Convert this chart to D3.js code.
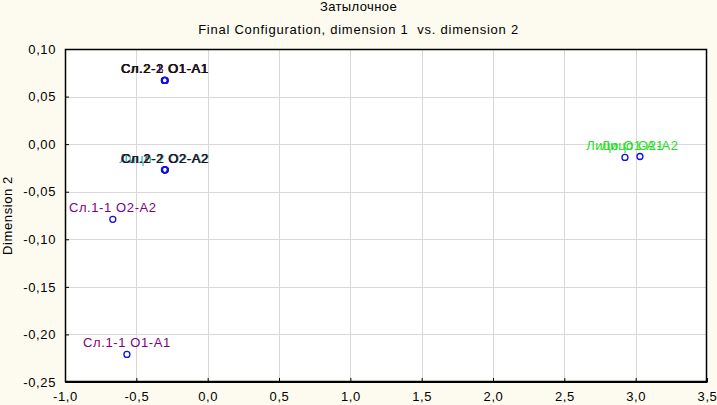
<!DOCTYPE html>
<html>
<head>
<meta charset="utf-8">
<script src="https://cdn.jsdelivr.net/npm/d3@7"></script>
<style>
  body { margin: 0; background: #fdfbef; }
  svg { display: block; font-family: "Liberation Sans", Arial, sans-serif; letter-spacing: 0.6px; }
  .grid line { stroke: #d8d8d8; stroke-width: 1; }
  .axis path, .axis line { stroke: #000; }
  .axis text { font-size: 13px; fill: #000; font-family: "Liberation Sans", Arial, sans-serif; }
</style>
</head>
<body>
<div id="chart"></div>
<script>
/* CONSTANTS */
const width = 717,
  height = 405,
  margin = { top: 49, bottom: 23, left: 65, right: 10 },
  radius = 3;

/* DATA */
const labels = [
  "Сл.1-1 О1-А1", "Сл.1-1 О2-А2",
  "Сл.1-2 О1-А1", "Сл.2-1 О1-А1", "Сл.2-3 О1-А1", "Сп.2-2 О1-А1", "Сл.2-2 О1-А1",
  "Лицо-2 О2-А2", "Сл.2-1 О2-А2", "Сл.1-2 О2-А2", "Сп.2-2 О2-А2", "Сл.2-2 О2-А2",
  "Лицо О1-А1", "Лицо О2-А2"
];
const dim1 = [
  -0.566, -0.665,
  -0.304, -0.302, -0.297, -0.301, -0.300,
  -0.303, -0.296, -0.301, -0.298, -0.300,
  2.925, 3.030
];
const dim2 = [
  -0.221, -0.079,
  0.067, 0.067, 0.067, 0.067, 0.067,
  -0.027, -0.027, -0.027, -0.027, -0.027,
  -0.014, -0.013
];
const labelColors = [
  "#800080", "#800080",
  "#e0d000", "#0000c0", "#c00060", "#006040", "#101010",
  "#20b0b0", "#60c060", "#c03030", "#2020a0", "#181818",
  "#22dd22", "#22dd22"
];
const xTicks = [-1.0, -0.5, 0.0, 0.5, 1.0, 1.5, 2.0, 2.5, 3.0, 3.5];
const yTicks = [0.10, 0.05, 0.00, -0.05, -0.10, -0.15, -0.20, -0.25];

const data = labels.map((d, i) => ({ label: d, x: dim1[i], y: dim2[i], color: labelColors[i] }));

/* SCALES */
const xScale = d3.scaleLinear()
  .domain([-1.0, 3.5])
  .range([margin.left, width - margin.right]);

const yScale = d3.scaleLinear()
  .domain([-0.25, 0.10])
  .range([height - margin.bottom, margin.top]);

const fmt = d3.format(".1f"), fmtY = d3.format(".2f");
const comma = s => s.replace(".", ",").replace("−", "-");

const svg = d3.select("#chart")
  .append("svg")
  .attr("width", width)
  .attr("height", height);

// titles
svg.append("text")
  .attr("x", width / 2).attr("y", 11)
  .attr("text-anchor", "middle")
  .attr("font-size", 13)
  .attr("letter-spacing", "0.4px")
  .text("Затылочное");

svg.append("text")
  .attr("x", width / 2).attr("y", 34)
  .attr("text-anchor", "middle")
  .attr("font-size", 13)
  .attr("letter-spacing", "0.75px")
  .style("white-space", "pre")
  .text("Final Configuration, dimension 1  vs. dimension 2");

// plot background
svg.append("rect")
  .attr("x", margin.left).attr("y", margin.top)
  .attr("width", width - margin.left - margin.right)
  .attr("height", height - margin.top - margin.bottom)
  .attr("fill", "#fff");

// grid
const grid = svg.append("g").attr("class", "grid");
grid.selectAll("line.v")
  .data(xTicks.slice(1, -1))
  .join("line")
  .attr("class", "v")
  .attr("x1", d => Math.round(xScale(d)) + 0.5).attr("x2", d => Math.round(xScale(d)) + 0.5)
  .attr("y1", margin.top).attr("y2", height - margin.bottom);
grid.selectAll("line.h")
  .data(yTicks.slice(1, -1))
  .join("line")
  .attr("class", "h")
  .attr("y1", d => Math.round(yScale(d)) + 0.5).attr("y2", d => Math.round(yScale(d)) + 0.5)
  .attr("x1", margin.left).attr("x2", width - margin.right);

// axes
const xAxis = d3.axisBottom(xScale).tickValues(xTicks).tickSizeInner(-4).tickSizeOuter(0)
  .tickPadding(10).tickFormat(d => comma(fmt(d)));
const yAxis = d3.axisLeft(yScale).tickValues(yTicks).tickSizeInner(-4).tickSizeOuter(0)
  .tickPadding(9).tickFormat(d => comma(fmtY(d)));

svg.append("g")
  .attr("class", "axis x-axis")
  .attr("transform", `translate(0,${height - margin.bottom})`)
  .call(xAxis);

svg.append("g")
  .attr("class", "axis y-axis")
  .attr("transform", `translate(${margin.left},0)`)
  .call(yAxis);

// frame
svg.append("rect")
  .attr("x", margin.left + 0.5).attr("y", margin.top + 0.5)
  .attr("width", width - margin.left - margin.right - 1)
  .attr("height", height - margin.top - margin.bottom - 1)
  .attr("fill", "none")
  .attr("stroke", "#000")
  .attr("stroke-width", 1.5);

// axis title
svg.append("text")
  .attr("transform", `translate(12,${(margin.top + height - margin.bottom) / 2}) rotate(-90)`)
  .attr("text-anchor", "middle")
  .attr("font-size", 13)
  .text("Dimension 2");

// points
svg.selectAll("circle.dot")
  .data(data)
  .join("circle")
  .attr("class", "dot")
  .attr("cx", d => xScale(d.x))
  .attr("cy", d => yScale(d.y))
  .attr("r", radius)
  .attr("fill", "none")
  .attr("stroke", "#1010e0")
  .attr("stroke-width", 1.3);

// labels
svg.selectAll("text.lbl")
  .data(data)
  .join("text")
  .attr("class", "lbl")
  .attr("x", d => xScale(d.x))
  .attr("y", d => yScale(d.y) - 7)
  .attr("text-anchor", "middle")
  .attr("font-size", 13)
  .attr("fill", d => d.color)
  .text(d => d.label);
</script>
</body>
</html>
